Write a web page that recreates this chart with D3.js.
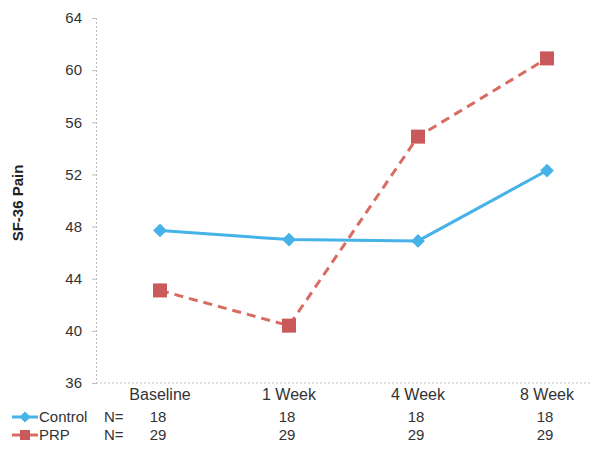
<!DOCTYPE html>
<html><head><meta charset="utf-8">
<script src="https://cdn.jsdelivr.net/npm/d3@7"></script>
<style>body{margin:0;background:#fff}svg{display:block}text{font-family:Arial,"Liberation Sans",sans-serif}</style>
</head><body>
<script>
const categories = ["Baseline","1 Week","4 Week","8 Week"];
const controlValues = [47.7, 47.0, 46.9, 52.3];
const prpValues = [43.1, 40.4, 54.9, 60.9];
const controlN = ["18","18","18","18"];
const prpN = ["29","29","29","29"];
const yTicks = [36,40,44,48,52,56,60,64];
const seriesNames = ["Control","PRP"];

const W=593,H=451;
const svg=d3.select("body").append("svg").attr("width",W).attr("height",H);
const x=d3.scalePoint().domain(categories).range([160,547]);
const y=d3.scaleLinear().domain([36,64]).range([383,18]);
const axisL=96;
const fs=15;

// y axis
const ya=svg.append("g").attr("transform",`translate(${axisL},0)`).call(d3.axisLeft(y).tickValues(yTicks).tickSize(4).tickPadding(10));
ya.select(".domain").attr("stroke","#bbb").attr("stroke-dasharray","2,2");
ya.selectAll(".tick line").attr("stroke","#bbb");
ya.selectAll(".tick text").attr("font-size",fs).attr("fill","#333").attr("font-family","Arial, 'Liberation Sans', sans-serif");
// x axis line
svg.append("line").attr("x1",axisL).attr("x2",590).attr("y1",y(36)).attr("y2",y(36)).attr("stroke","#bbb").attr("stroke-dasharray","2,2");

// category labels
svg.selectAll(".cat").data(categories).join("text").attr("x",d=>x(d)).attr("y",400).attr("text-anchor","middle").attr("font-size",fs+1).attr("fill","#333").text(d=>d);
svg.selectAll(".nc").data(controlN).join("text").attr("x",(d,i)=>x(categories[i])-2).attr("y",422).attr("text-anchor","middle").attr("font-size",fs).attr("fill","#333").text(d=>d);
svg.selectAll(".np").data(prpN).join("text").attr("x",(d,i)=>x(categories[i])-2).attr("y",440).attr("text-anchor","middle").attr("font-size",fs).attr("fill","#333").text(d=>d);

// y title
svg.append("text").attr("transform","translate(23,203) rotate(-90)").attr("text-anchor","middle").attr("font-size",15).attr("font-weight","bold").attr("fill","#222").text("SF-36 Pain");

const cCol="#45B2E8", pCol="#C9595A", pLine="#D96C62";
const line=d3.line().x((d,i)=>x(categories[i])).y(d=>y(d));
svg.append("path").datum(controlValues).attr("d",line).attr("fill","none").attr("stroke",cCol).attr("stroke-width",3);
svg.append("path").datum(prpValues).attr("d",line).attr("fill","none").attr("stroke",pLine).attr("stroke-width",3).attr("stroke-dasharray","9,6");

const diamond=d3.symbol().type(d3.symbolDiamond2).size(120);
svg.selectAll(".cm").data(controlValues).join("path").attr("d",diamond).attr("transform",(d,i)=>`translate(${x(categories[i])},${y(d)})`).attr("fill",cCol);
svg.selectAll(".pm").data(prpValues).join("rect").attr("x",(d,i)=>x(categories[i])-7).attr("y",d=>y(d)-7).attr("width",14).attr("height",14).attr("fill",pCol);

// legend
const lg=[{name:seriesNames[0],y:417,col:cCol,t:"d"},{name:seriesNames[1],y:435,col:pCol,t:"s"}];
lg.forEach(l=>{
  svg.append("line").attr("x1",12).attr("x2",38).attr("y1",l.y).attr("y2",l.y).attr("stroke",l.t==="d"?cCol:pLine).attr("stroke-width",3);
  if(l.t==="d") svg.append("path").attr("d",d3.symbol().type(d3.symbolDiamond2).size(80)()).attr("transform",`translate(25,${l.y})`).attr("fill",l.col);
  else svg.append("rect").attr("x",20).attr("y",l.y-5).attr("width",10).attr("height",10).attr("fill",l.col);
  svg.append("text").attr("x",39).attr("y",l.y+5).attr("font-size",fs).attr("fill","#333").text(l.name);
  svg.append("text").attr("x",104).attr("y",l.y+5).attr("font-size",fs).attr("fill","#333").text("N=");
});
</script>
</body></html>
